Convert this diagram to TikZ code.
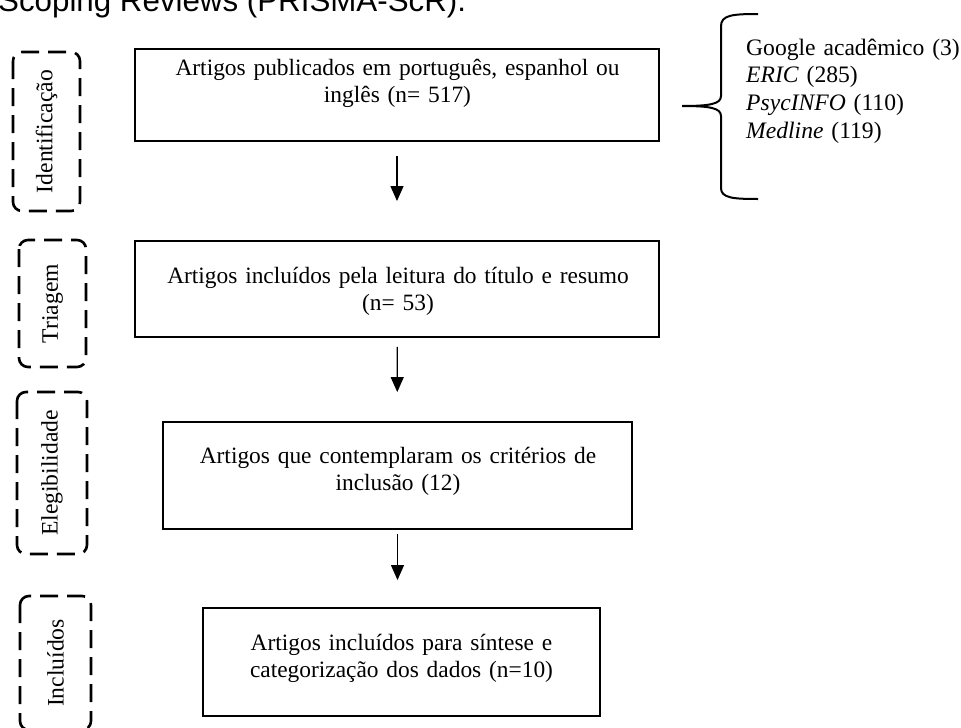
\documentclass[tikz,border=0pt]{standalone}
\usepackage{fontspec}
\setmainfont{Liberation Serif}
\newfontfamily\arialfont{Liberation Sans}
\usepackage{tikz}
\usetikzlibrary{calc,positioning,arrows.meta,shapes}

\begin{document}
\begin{tikzpicture}[x=1pt,y=-1pt,
  artbox/.style={draw,line width=1.9pt,rectangle,inner sep=0pt},
  boxtext/.style={anchor=base,text width=540pt,align=center,inner sep=0pt,font=\fontsize{23.4}{27.6}\selectfont},
  phase/.style={draw,dashed,dash pattern=on 18pt off 9pt,line width=2.6pt,rounded corners=9pt,rotate=90,inner sep=0pt,font=\fontsize{23.6}{27.6}\selectfont},
  seta/.style={-{Triangle[length=15pt,width=13pt]},line width=1.2pt}]
      \clip (0,0) rectangle (961,728);

      \node[anchor=base west,inner sep=0pt,font=\arialfont\fontsize{31.3}{36}\selectfont] (title) at (-2,12) {Scoping Reviews (PRISMA-ScR).};

      \node[artbox,minimum width=524pt,minimum height=92pt] (art1) at (397,95) {};
      \node[artbox,minimum width=524pt,minimum height=96pt] (art2) at (397,289) {};
      \node[artbox,minimum width=469pt,minimum height=107pt] (art3) at (397.5,475.5) {};
      \node[artbox,minimum width=397pt,minimum height=108pt] (art4) at (401.5,662) {};

      \node[boxtext] (txt1) at (397.5,75) {Artigos publicados em português, espanhol ou\\ inglês (n= 517)};
      \node[boxtext] (txt2) at (398,283) {Artigos incluídos pela leitura do título e resumo\\ (n= 53)};
      \node[boxtext] (txt3) at (398,463) {Artigos que contemplaram os critérios de\\ inclusão (12)};
      \node[boxtext] (txt4) at (401.5,650) {Artigos incluídos para síntese e\\ categorização dos dados (n=10)};

      \node[phase,minimum width=159pt,minimum height=67pt] (ident) at (46.5,131.5) {Identificação};
      \node[phase,minimum width=127pt,minimum height=67pt] (triag) at (52.5,303.5) {Triagem};
      \node[phase,minimum width=162pt,minimum height=70pt] (eleg) at (52,473) {Elegibilidade};
      \node[phase,minimum width=134pt,minimum height=71pt] (incl) at (55.5,663) {Incluídos};

      \draw[seta,shorten <=14pt,shorten >=39pt] (art1) -- (art2);
      \draw[seta,shorten <=9pt,shorten >=29pt] (art2) -- (art3);
      \draw[seta,shorten <=4pt,shorten >=27pt] (art3.south) -- (art3.south |- art4.north);

      \draw[line width=2pt] (758,14) .. controls (733,14) and (721,15) .. (721,26) -- (721,96)
         .. controls (721,104) and (710,106) .. (682,106) .. controls (710,106) and (721,108) .. (721,116)
         -- (721,188) .. controls (721,198) and (733,199) .. (758,199);
      \node[anchor=base west,text width=230pt,align=left,inner sep=0pt,font=\fontsize{23.6}{27.7}\selectfont] (src) at (746,55)
         {Google acadêmico (3)\\ \textit{ERIC} (285)\\ \textit{PsycINFO} (110)\\ \textit{Medline} (119)};

     \end{tikzpicture}
\end{document}
